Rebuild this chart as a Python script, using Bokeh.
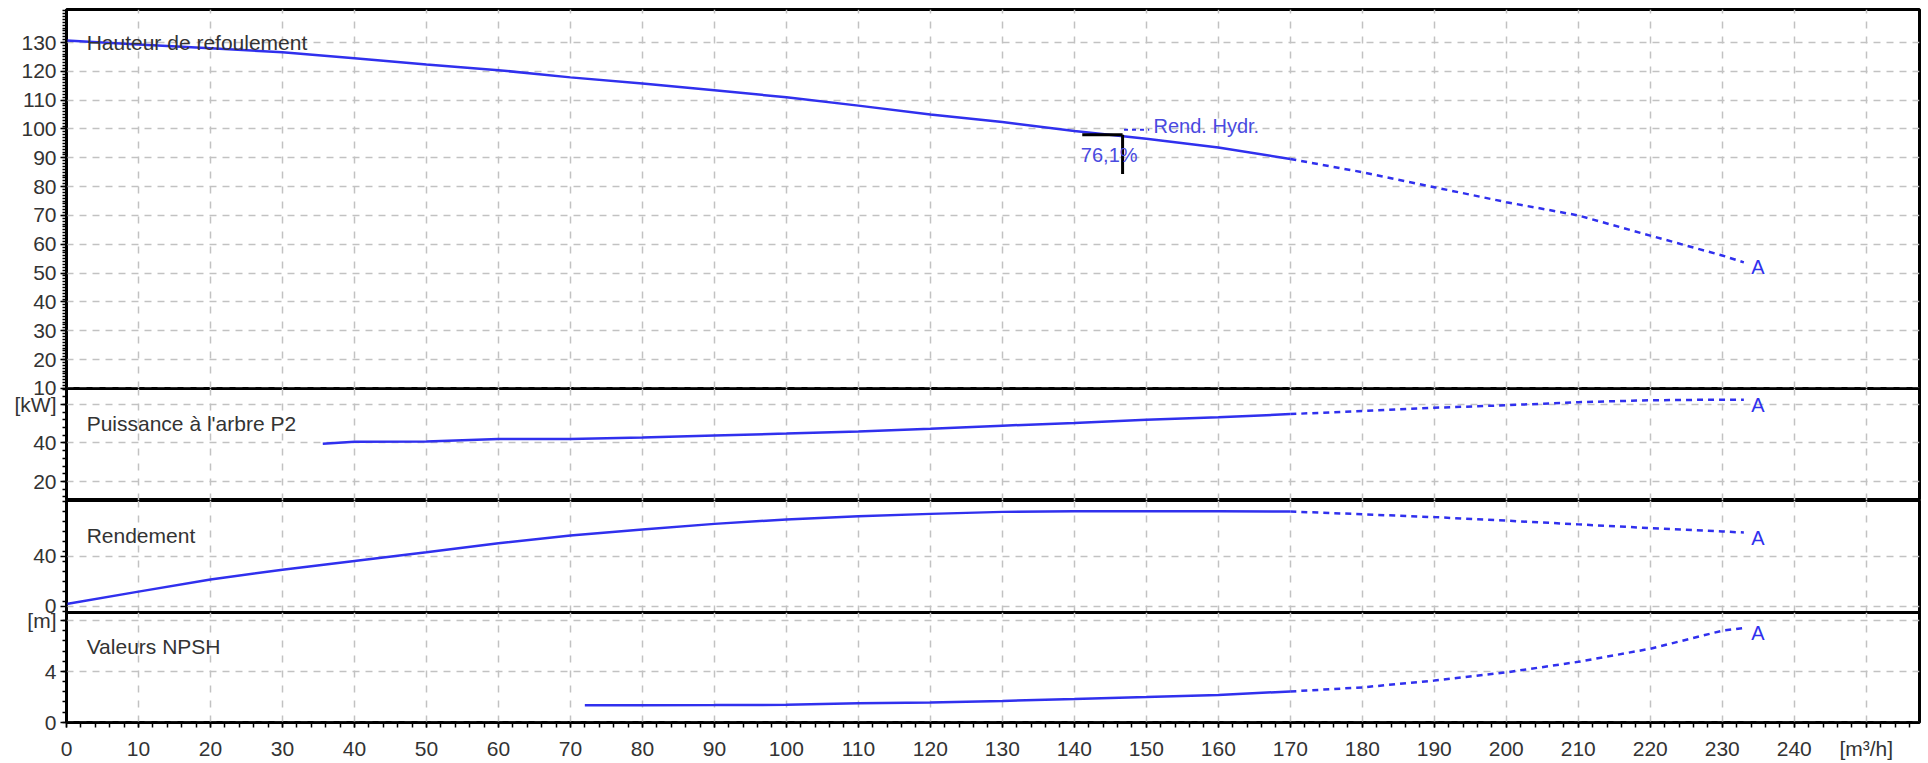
from bokeh.plotting import figure
from bokeh.layouts import column
from bokeh.models import FixedTicker, Grid, Range1d, Label, ColumnDataSource
from bokeh.embed import file_html
from bokeh.resources import INLINE
from bokeh.core.properties import value

# ---------------- data ----------------
# Hauteur de refoulement [m]
q_head = [0, 10, 20, 30, 40, 50, 60, 70, 80, 90, 100, 110, 120, 130, 140, 150, 160, 170]
head = [130.7, 129.3, 128.0, 126.6, 124.5, 122.4, 120.4, 117.9, 115.8, 113.4, 111.0, 108.1,
        105.0, 102.4, 99.3, 96.6, 93.6, 89.6]
q_head_ext = [170, 180, 190, 200, 210, 220, 230, 233]
head_ext = [89.6, 85.0, 79.8, 74.6, 70.0, 63.0, 56.1, 53.7]

# Puissance a l'arbre P2 [kW]
q_power = [35.6, 40, 50, 60, 70, 80, 90, 100, 110, 120, 130, 140, 150, 160, 170]
power = [39.6, 40.6, 40.8, 42.0, 42.0, 42.9, 43.9, 44.9, 46.0, 47.4, 49.0, 50.4, 52.0, 53.4, 55.0]
q_power_ext = [170, 180, 190, 200, 210, 220, 230, 233]
power_ext = [55.0, 56.6, 58.3, 59.6, 61.2, 62.2, 62.5, 62.5]

# Rendement [%]
q_eff = [0, 10, 20, 30, 40, 50, 60, 70, 80, 90, 100, 110, 120, 130, 140, 150, 160, 170]
eff = [1.8, 11.7, 21.4, 29.2, 36.2, 43.2, 50.4, 56.6, 61.4, 65.9, 69.4, 72.0, 73.9, 75.5,
       76.0, 76.1, 76.0, 75.8]
q_eff_ext = [170, 180, 190, 200, 210, 220, 230, 233]
eff_ext = [75.8, 73.6, 71.3, 68.5, 65.5, 62.5, 59.8, 59.0]

# Valeurs NPSH [m]
q_npsh = [72, 80, 90, 100, 110, 120, 130, 140, 150, 160, 170]
npsh = [1.34, 1.34, 1.35, 1.37, 1.50, 1.55, 1.68, 1.82, 1.98, 2.15, 2.42]
q_npsh_ext = [170, 180, 190, 200, 210, 220, 230, 233]
npsh_ext = [2.42, 2.74, 3.28, 3.92, 4.75, 5.78, 7.20, 7.41]

# duty point marker
duty_q_start = 141.1
duty_q = 146.7
duty_head = 98.0
duty_mark_bottom = 84.4
duty_eff_text = "76,1%"
duty_eff_pos = (140.9, 91.1)
rend_hydr_text = "Rend. Hydr."
rend_hydr_pos = (151.0, 101.2)

# axes
x_ticks = list(range(0, 251, 10))
x_minor = list(range(0, 258, 2))
x_overrides = {250: "[m³/h]"}

head_ticks = list(range(10, 131, 10))
head_minor = list(range(10, 142, 1))
power_ticks = [20, 40, 60]
power_minor = list(range(12, 69, 4))
power_overrides = {60: "[kW]"}
eff_ticks = [0, 40]
eff_minor = list(range(-4, 85, 8))
npsh_ticks = [0, 4, 8]
npsh_minor = [i * 0.8 for i in range(0, 11)]
npsh_overrides = {8: "[m]"}

titles = ["Hauteur de refoulement", "Puissance à l'arbre P2", "Rendement", "Valeurs NPSH"]
title_pos_x = 2.8
title_pos_y = [130, 50, 56.6, 5.94]

# ---------------- style ----------------
FONT = "Liberation Sans"
BLUE = "#3030ee"
TXT = "#333333"
GRIDC = "#c2c2c2"
FS = "21px"

xr = Range1d(0, 257.4)


def style_axis(ax, ticks, minor, overrides):
    ax.ticker = FixedTicker(ticks=ticks, minor_ticks=minor)
    ax.major_label_overrides = overrides
    ax.major_label_text_font = FONT
    ax.major_label_text_font_size = FS
    ax.major_label_text_color = TXT
    ax.axis_line_color = "black"
    ax.axis_line_width = 2
    ax.major_tick_line_color = "black"
    ax.minor_tick_line_color = "black"
    ax.major_tick_line_width = 1.5
    ax.minor_tick_line_width = 1.5
    ax.major_tick_in = 0
    ax.minor_tick_in = 0


def panel(frame_h, yr, ticks, minor, overrides, top=0, bottom=0, overlap=0, xaxis=False):
    # top / bottom: extra canvas above / below the frame so that edge tick labels are not cut;
    # overlap: pull the panel up so that its frame starts exactly where the previous one ends
    p = figure(width=1928, height=top + frame_h + bottom, x_range=xr, y_range=Range1d(*yr),
               output_backend="svg", toolbar_location=None, title=None,
               x_axis_location="below" if xaxis else None,
               min_border_left=66, min_border_right=9,
               min_border_top=top, min_border_bottom=bottom,
               outline_line_color="black", outline_line_width=3,
               background_fill_alpha=0, border_fill_alpha=0)
    if overlap:
        p.styles = {"margin-top": f"-{overlap}px"}
    p.grid.visible = False
    p.add_layout(Grid(dimension=0, ticker=FixedTicker(ticks=x_ticks),
                      grid_line_color=GRIDC, grid_line_dash="7 8", grid_line_width=1.5))
    p.add_layout(Grid(dimension=1, ticker=FixedTicker(ticks=ticks),
                      grid_line_color=GRIDC, grid_line_dash="7 6", grid_line_width=1.5))
    ay = p.yaxis[0]
    style_axis(ay, ticks, minor, overrides)
    ay.major_tick_out = 6
    ay.minor_tick_out = 4
    ay.major_label_standoff = 4
    if xaxis:
        axx = p.xaxis[0]
        style_axis(axx, x_ticks, x_minor, x_overrides)
        axx.major_tick_out = 5
        axx.minor_tick_out = 5
        axx.major_label_standoff = 9
    return p


def curves(p, q, v, qe, ve, title, ty):
    p.line(q, v, line_color=BLUE, line_width=2.5)
    p.line(qe, ve, line_color=BLUE, line_width=2.5, line_dash="6 5")
    src = ColumnDataSource(dict(x=[qe[-1]], y=[ve[-1]], t=["A"]))
    p.text(x="x", y="y", text="t", source=src, x_offset=14, y_offset=5,
           text_align="center", text_baseline="middle", text_color=BLUE,
           text_font=value(FONT), text_font_size="20px")
    p.add_layout(Label(x=title_pos_x, y=ty, text=title, text_font=FONT,
                       text_font_size=FS, text_color=TXT, text_baseline="middle"))


# ---- panel 1: head ----
p1 = panel(379, (9.95, 141.45), head_ticks, head_minor, {}, top=9, bottom=12)
curves(p1, q_head, head, q_head_ext, head_ext, titles[0], title_pos_y[0])
p1.add_layout(Label(x=duty_eff_pos[0], y=duty_eff_pos[1], text=duty_eff_text, text_font=FONT,
                    text_font_size="20px", text_color="#4a4ae0", text_baseline="middle"))
p1.add_layout(Label(x=rend_hydr_pos[0], y=rend_hydr_pos[1], text=rend_hydr_text, text_font=FONT,
                    text_font_size="20px", text_color="#4a4ae0", text_baseline="middle"))
p1.line([duty_q + 0.2, rend_hydr_pos[0] - 0.6], [rend_hydr_pos[1] - 1.5, rend_hydr_pos[1] - 1.5],
        line_color=BLUE, line_width=2, line_dash="4 4")
p1.line([duty_q_start, duty_q], [duty_head, duty_head], line_color="black", line_width=3)
p1.line([duty_q, duty_q], [duty_head, duty_mark_bottom], line_color="black", line_width=3)

# ---- panel 2: power ----
p2 = panel(112, (10.1, 68.3), power_ticks, power_minor, power_overrides, overlap=12)
curves(p2, q_power, power, q_power_ext, power_ext, titles[1], title_pos_y[1])

# ---- panel 3: efficiency ----
p3 = panel(112, (-5.0, 84.6), eff_ticks, eff_minor, {}, bottom=8)
curves(p3, q_eff, eff, q_eff_ext, eff_ext, titles[2], title_pos_y[2])

# ---- panel 4: NPSH ----
p4 = panel(111, (-0.02, 8.63), npsh_ticks, npsh_minor, npsh_overrides, top=8, bottom=39,
           overlap=16, xaxis=True)
curves(p4, q_npsh, npsh, q_npsh_ext, npsh_ext, titles[3], title_pos_y[3])

layout = column(p1, p2, p3, p4, spacing=0)
open("out.html", "w").write(file_html(layout, INLINE))
